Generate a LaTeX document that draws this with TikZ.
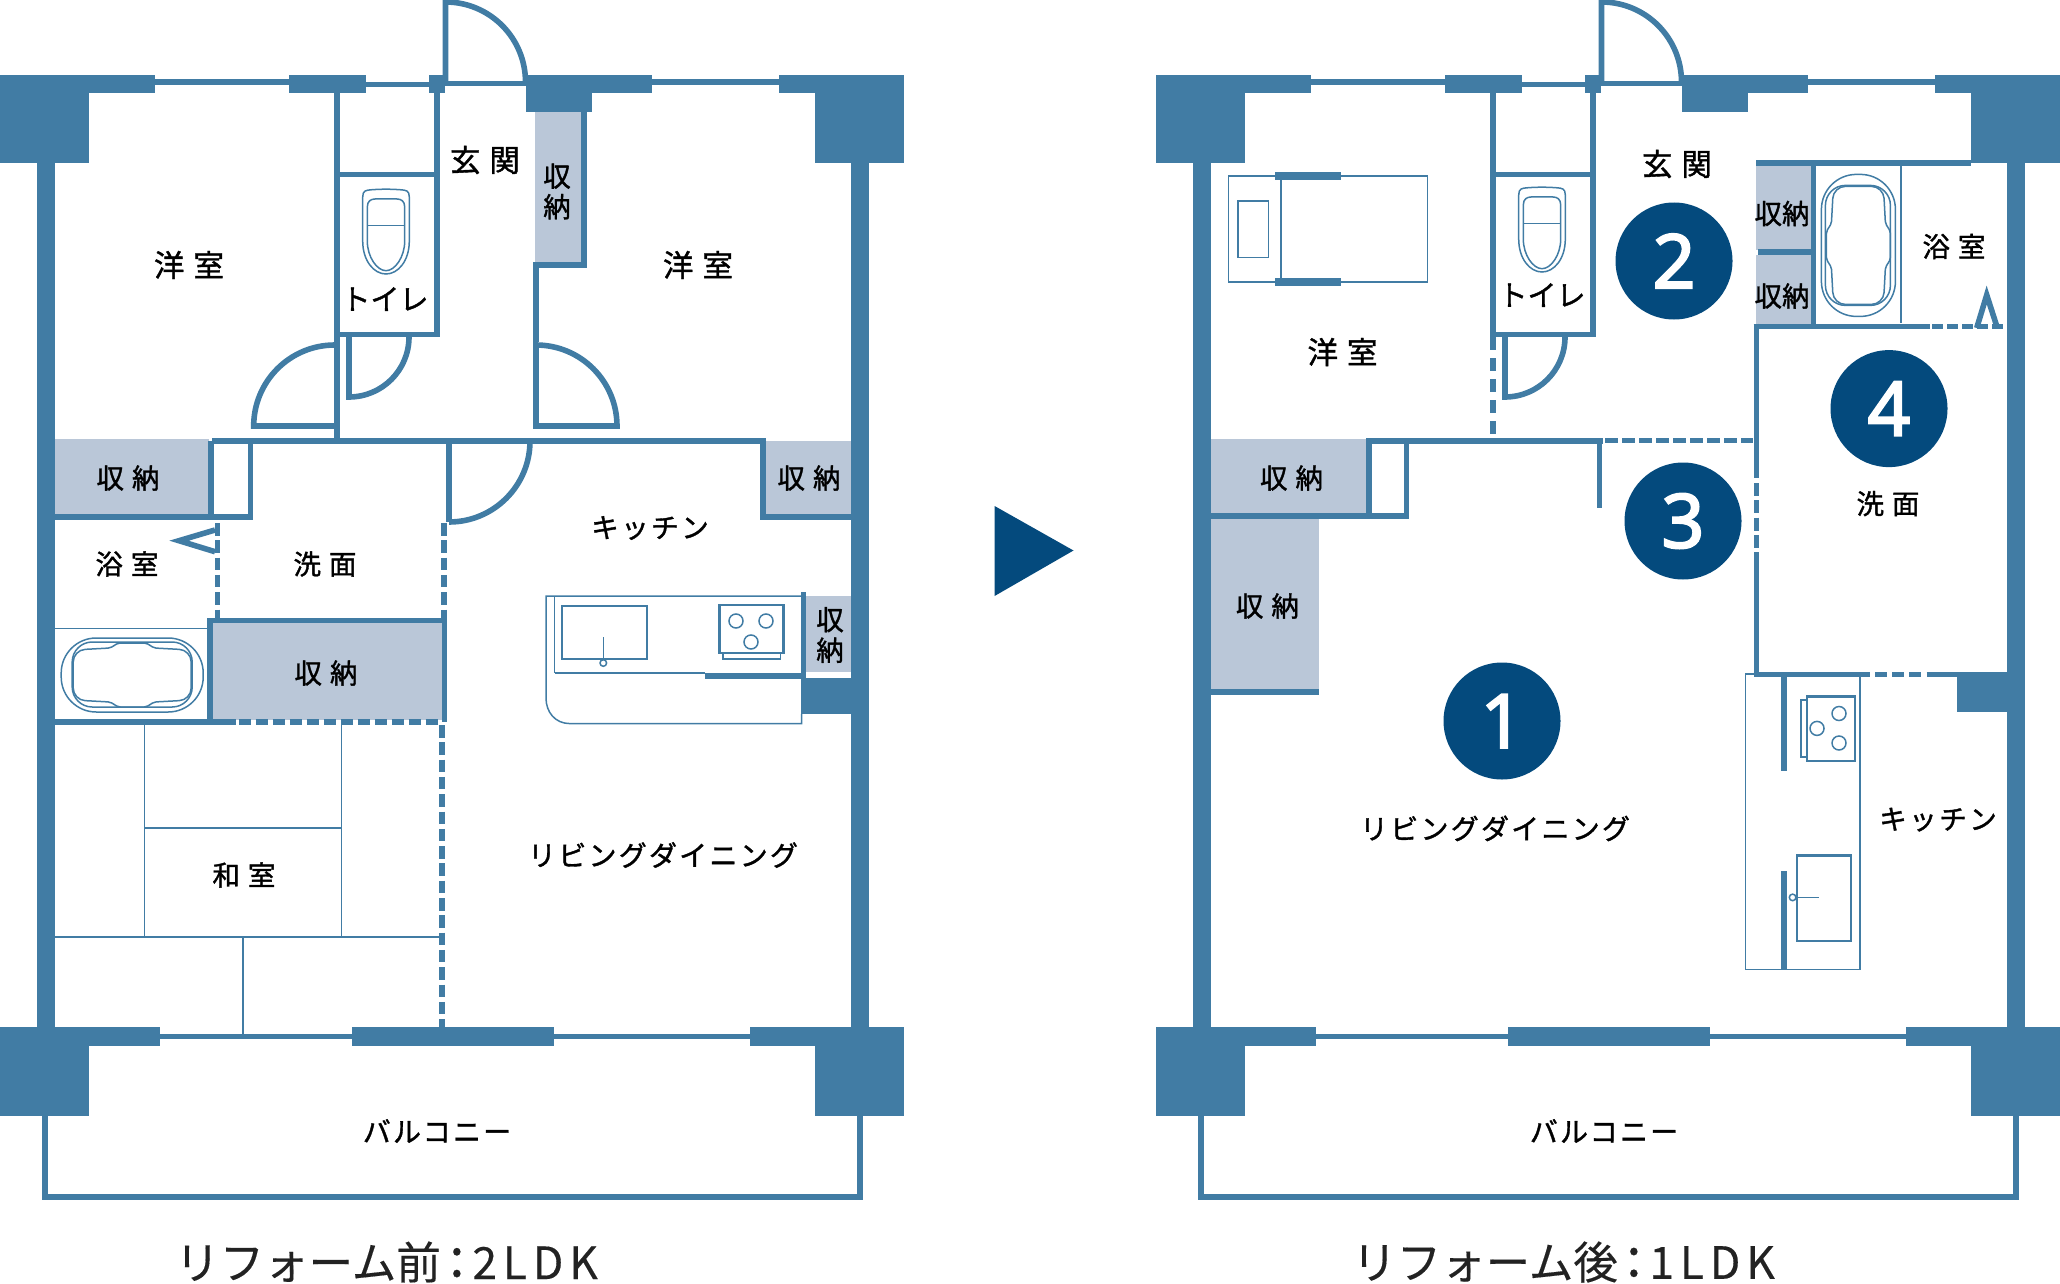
\documentclass[tikz,border=0pt]{standalone}
\usepackage{fontspec}
\newfontfamily\cjk[FakeBold=1.3]{Noto Sans CJK JP}
\newfontfamily\ttl[FakeBold=0.3]{Noto Sans CJK JP}
\newfontfamily\dig[FakeBold=2.6]{Noto Sans}
\definecolor{wall}{HTML}{417CA4}
\definecolor{grayroom}{HTML}{BAC7D8}
\definecolor{navy}{HTML}{044A7D}
\definecolor{ttlc}{HTML}{222222}
\newcommand{\ttlcolon}{\hspace{8.5pt}\raisebox{2.5pt}{\fontsize{54}{54}\selectfont:}\hspace{8pt}}
\tikzset{
  wl/.style={draw=wall,line width=5.6pt},
  dsh/.style={draw=wall,line width=5.6pt,dash pattern=on 12.5pt off 4.8pt},
  thin/.style={draw=wall,line width=1.5pt},
  med/.style={draw=wall,line width=2.2pt},
  lbl/.style={inner sep=0pt,text=black,font=\cjk\fontsize{27.5}{27.5}\selectfont},
  big/.style={inner sep=0pt,text=black,font=\cjk\fontsize{30.5}{30.5}\selectfont},
  wide/.style={inner sep=0pt,text=black,font=\cjk\fontsize{28}{28}\selectfont\addfontfeature{LetterSpace=8}},
  vert/.style={inner sep=0pt,text=black,align=center,font=\cjk\fontsize{27.5}{30.5}\selectfont},
  numc/.style={circle,fill=navy,minimum size=117pt,inner sep=0pt,text=white,font=\dig\fontsize{75}{75}\selectfont},
  titlet/.style={inner sep=0pt,text=ttlc,font=\ttl\fontsize{44.5}{44.5}\selectfont},
}
% outer building shell, shared by both plans
\newcommand{\shellplan}{%
  \fill[wall] (0,75) rectangle (89,163);
  \fill[wall] (814.5,75) rectangle (904,163);
  \fill[wall] (0,1027) rectangle (89,1116);
  \fill[wall] (814.5,1027) rectangle (904,1116);
  \fill[wall] (37,163) rectangle (55,1027);
  \fill[wall] (851,163) rectangle (869,1027);
  % top band
  \fill[wall] (0,75) rectangle (154.5,93);
  \fill[wall] (154.5,79.5) rectangle (289,85);
  \fill[wall] (289,75) rectangle (366,93);
  \fill[wall] (366,81.7) rectangle (429,86.7);
  \fill[wall] (429,75) rectangle (445,93);
  \fill[wall] (445,80.7) rectangle (526,86);
  \fill[wall] (526,75) rectangle (651.5,93);
  \fill[wall] (526,75) rectangle (592,112);
  \fill[wall] (651.5,79.5) rectangle (779,85);
  \fill[wall] (779,75) rectangle (904,93);
  % bottom band
  \fill[wall] (0,1027) rectangle (160,1046);
  \fill[wall] (160,1033.6) rectangle (352,1039);
  \fill[wall] (352,1027) rectangle (554,1046);
  \fill[wall] (554,1033.6) rectangle (750,1039);
  \fill[wall] (750,1027) rectangle (904,1046);
  % balcony
  \draw[wl,line width=5.4pt] (45,1116) -- (45,1197) -- (860,1197) -- (860,1116);
  % entrance door
  \draw[wl] (445.5,84) -- (445.5,2) arc[start angle=-90,end angle=0,radius=80];
  % WC block and its door
  \draw[wl] (337,93) -- (337,337);
  \draw[wl] (337,174.5) -- (436.7,174.5);
  \draw[wl] (436.7,93) -- (436.7,337);
  \draw[wl] (334.2,334.5) -- (439.5,334.5);
  \draw[wl] (349,337) -- (349,397) arc[start angle=90,end angle=0,radius=60];
}
% toilet bowl
\newcommand{\wcbowl}[2]{%
  \begin{scope}[shift={(#1,#2)}]
    \draw[thin] (-23.3,8) .. controls (-23.3,1.5) and (-20,1.2) .. (-15,0.8) .. controls (-5,0) and (5,0) .. (15,0.8) .. controls (20,1.2) and (23.3,1.5) .. (23.3,8) -- (23.3,52) .. controls (23.3,72) and (12,85) .. (0,85) .. controls (-12,85) and (-23.3,72) .. (-23.3,52) -- cycle;
    \draw[thin] (-18.7,18) .. controls (-18.7,12) and (-15,10) .. (-11,10) -- (11,10) .. controls (15,10) and (18.7,12) .. (18.7,18) -- (18.7,52) .. controls (18.7,68) and (9,81.7) .. (0,81.7) .. controls (-9,81.7) and (-18.7,68) .. (-18.7,52) -- cycle;
    \draw[thin] (-18.7,36.7) -- (18.7,36.7);
  \end{scope}%
}
% bath tub, drawn lying, centred on the origin
\newcommand{\bathtub}{%
  \draw[thin] (-71,-37) [rounded corners=35pt] -- (71,-37) -- (71,37) -- (-71,37) -- cycle;
  \draw[thin] (0,-33) [rounded corners=20pt] -- (60,-33) -- (60,32) -- (-60,32) -- (-60,-33) -- cycle;
  \draw[thin] (0,-32) [rounded corners=2pt] -- (14,-32) -- (22,-27) [rounded corners=12pt] -- (59,-25) -- (59,25) [rounded corners=2pt] -- (22,27) -- (14,32) -- (-14,32) -- (-22,27) [rounded corners=12pt] -- (-59,25) -- (-59,-25) [rounded corners=2pt] -- (-22,-27) -- (-14,-32) -- cycle;
}
\begin{document}
\begin{tikzpicture}[x=1pt,y=-1pt]
\useasboundingbox (0,0) rectangle (2060,1284);
%% ================= LEFT PLAN =================
\begin{scope}
  % grey storage
  \fill[grayroom] (535,112) rectangle (581.5,263);
  \fill[grayroom] (55,439) rectangle (209,514);
  \fill[grayroom] (766,441) rectangle (851,514);
  \fill[grayroom] (212,623) rectangle (441.5,719.5);
  \fill[grayroom] (806,596) rectangle (851,672);
  \shellplan
  \wcbowl{386}{189}
  \draw[wl] (337,337) -- (337,441);
  % doors
  \draw[wl] (334.7,345) arc[start angle=-90,end angle=-180,radius=81] -- (337,426);
  \draw[wl] (536,345) arc[start angle=-90,end angle=0,radius=81] -- (536,426) -- cycle;
  % closet beside right room
  \draw[wl] (584,112) -- (584,265) -- (536,265) -- (536,342);
  % middle walls
  \draw[wl] (212,441) -- (763,441);
  \draw[wl] (763,438.2) -- (763,517) -- (851,517);
  \draw[wl] (211,441) -- (211,517);
  \draw[wl] (55,517) -- (250.3,517) -- (250.3,441);
  \draw[wl] (449,522) -- (449,441);
  \draw[wl] (449,522) arc[start angle=90,end angle=0,radius=81];
  % bath dashed
  \draw[dsh] (217.3,523) -- (217.3,618);
  \draw[wl] (215,530) -- (179,540.7) -- (215,551.7);
  \draw[dsh] (444,523) -- (444,618);
  % storage block
  \draw[wl] (207,620.5) -- (447,620.5);
  \draw[wl] (209.7,618) -- (209.7,722);
  \draw[wl] (444.3,618) -- (444.3,722);
  \draw[wl] (55,722) -- (236,722);
  \draw[dsh,dash pattern=on 12pt off 5pt] (238.7,722) -- (441,722);
  \draw[dsh] (442,725) -- (442,1027);
  % bath
  \draw[thin] (55,628.7) -- (207,628.7);
  \begin{scope}[shift={(132.2,675)}]\bathtub\end{scope}
  % tatami
  \draw[thin] (144.5,725) -- (144.5,937);
  \draw[thin] (341.5,725) -- (341.5,937);
  \draw[thin] (144.5,828) -- (341.5,828);
  \draw[thin] (55,937) -- (440,937);
  \draw[thin] (243,937) -- (243,1034);
  % kitchen
  \fill[wall] (801,678) rectangle (851,714);
  \draw[thin] (801.6,714) -- (801.6,723.6) -- (570,723.6) .. controls (555,723.6) and (546,712) .. (546,698) -- (546,596) -- (803,596);
  \draw[thin] (554.6,596) -- (554.6,673);
  \draw[med] (554.6,673) -- (705.4,673);
  \draw[wl] (705.4,676) -- (806,676);
  \draw[wl] (803.5,592) -- (803.5,680);
  \draw[med] (561.6,606) rectangle (646.7,659);
  \draw[thin] (603.3,637) -- (603.3,660);
  \draw[thin,fill=white] (603.3,663) circle[radius=3.3];
  \draw[med] (719.5,605) rectangle (783.4,653);
  \draw[thin] (723,653) -- (723,659) -- (780.5,659) -- (780.5,653);
  \draw[thin] (736,621) circle[radius=7];
  \draw[thin] (766,621) circle[radius=7];
  \draw[thin] (751,642) circle[radius=7];
  % labels
  \node[big] (a1) at (189,265) {洋\hspace{9pt}室};
  \node[big] (a2) at (485,160) {玄\hspace{9pt}関};
  \node[vert] (a3) at (557,191.5) {収\\納};
  \node[big] (a4) at (698,265) {洋\hspace{9pt}室};
  \node[big,font=\cjk\fontsize{29}{29}\selectfont] (a5) at (385,299) {トイレ};
  \node[lbl] (a6) at (128,478) {収\hspace{8pt}納};
  \node[lbl] (a7) at (809,478) {収\hspace{8pt}納};
  \node[lbl] (a8) at (650,528) {キ\hspace{2.5pt}ッ\hspace{2.5pt}チ\hspace{2.5pt}ン};
  \node[lbl] (a9) at (127,564) {浴\hspace{8pt}室};
  \node[lbl] (a10) at (325,564) {洗\hspace{8pt}面};
  \node[lbl] (a11) at (326,673) {収\hspace{8pt}納};
  \node[vert] (a12) at (830,635) {収\\納};
  \node[lbl] (a13) at (244,875) {和\hspace{8pt}室};
  \node[wide] (a14) at (663,855) {リビングダイニング};
  \node[wide] (a15) at (437,1131) {バルコニー};
  \node[titlet,anchor=west] (a16) at (175,1262) {リフォーム前\ttlcolon{\addfontfeature{LetterSpace=13}2LDK}};
\end{scope}
%% ================= ARROW =================
\fill[navy] (994.6,506) -- (1073.5,550.5) -- (994.6,596) -- cycle;
%% ================= RIGHT PLAN =================
\begin{scope}[xshift=1156pt]
  % grey storage
  \fill[grayroom] (55,439) rectangle (210,514);
  \fill[grayroom] (55,518) rectangle (163,690);
  \fill[grayroom] (600,166) rectangle (655,249.5);
  \fill[grayroom] (600,254.5) rectangle (655,324);
  \shellplan
  \wcbowl{386}{187}
  % bed
  \draw[thin] (72.6,176) rectangle (271.6,282);
  \draw[thin] (125,176) -- (125,282);
  \draw[thin] (82,201) rectangle (112.5,257.6);
  \fill[wall] (119,172) rectangle (185,180.5);
  \fill[wall] (119,278) rectangle (185,286);
  % partitions
  \draw[dsh,dash pattern=on 13pt off 8pt] (337,337) -- (337,438);
  \draw[wl] (210,441) -- (447,441);
  \draw[dsh,dash pattern=on 13pt off 4pt] (449,440.5) -- (597,440.5);
  \draw[wl] (443.5,441) -- (443.5,508);
  \draw[wl] (213,441) -- (213,516);
  \draw[wl] (55,516) -- (250.5,516) -- (250.5,441);
  \draw[wl] (55,692) -- (163,692);
  % bath block
  \draw[wl] (600,163) -- (814.5,163);
  \draw[wl] (657.5,163) -- (657.5,326);
  \draw[wl] (602,252) -- (655,252);
  \draw[wl] (597.5,326.3) -- (774,326.3);
  \draw[dsh,dash pattern=on 11pt off 4pt] (776,326.3) -- (851,326.3);
  \draw[wl] (820.7,328) -- (830.7,295) -- (840.7,326);
  \draw[thin] (745,166) -- (745,323);
  \begin{scope}[shift={(702.4,245.4)},rotate=90]\bathtub\end{scope}
  % washroom box
  \draw[wl] (600.3,323.5) -- (600.3,478);
  \draw[dsh,dash pattern=on 13pt off 4.3pt] (600.3,483) -- (600.3,548);
  \draw[wl] (600.3,552) -- (600.3,677);
  \draw[wl] (597.5,674.5) -- (714,674.5);
  \draw[dsh,dash pattern=on 12pt off 5pt] (719,674.5) -- (766,674.5);
  \draw[wl] (770.7,674.5) -- (851,674.5);
  % kitchen
  \fill[wall] (801,677) rectangle (851,712);
  \draw[thin] (600,674) -- (589.6,674) -- (589.6,969.4) -- (704,969.4) -- (704,677);
  \draw[wl] (628,677) -- (628,771);
  \draw[wl] (628,871) -- (628,969.4);
  \draw[med] (651,696.5) rectangle (699,760.7);
  \draw[thin] (651,700) -- (645,700) -- (645,757) -- (651,757);
  \draw[thin] (683,713.5) circle[radius=7];
  \draw[thin] (661,728.4) circle[radius=7];
  \draw[thin] (683,743) circle[radius=7];
  \draw[med] (641,855.5) rectangle (694.7,940.6);
  \draw[thin,fill=white] (636.6,897.4) circle[radius=3.3];
  \draw[thin] (640,897.4) -- (663,897.4);
  % numbered badges
  \node[numc] (n1) at (346,721) {\raisebox{-3pt}{1}};
  \node[numc] (n2) at (518,261) {\raisebox{-3pt}{2}};
  \node[numc] (n3) at (527,521) {\raisebox{-3pt}{3}};
  \node[numc] (n4) at (733,408.6) {\raisebox{-3pt}{4}};
  % labels
  \node[big] (b1) at (186.5,352) {洋\hspace{9pt}室};
  \node[big] (b2) at (521,164) {玄\hspace{9pt}関};
  \node[big,font=\cjk\fontsize{29}{29}\selectfont] (b3) at (386,295) {トイレ};
  \node[lbl] (b4) at (626,213.5) {収納};
  \node[lbl] (b5) at (626,296) {収納};
  \node[lbl] (b6) at (798,246.5) {浴\hspace{8pt}室};
  \node[lbl] (b7) at (732,503.6) {洗\hspace{8pt}面};
  \node[lbl] (b8) at (135.5,478) {収\hspace{8pt}納};
  \node[lbl] (b9) at (111.4,606) {収\hspace{8pt}納};
  \node[wide] (b10) at (339,828.4) {リビングダイニング};
  \node[lbl] (b11) at (782,819.6) {キ\hspace{2.5pt}ッ\hspace{2.5pt}チ\hspace{2.5pt}ン};
  \node[wide] (b12) at (448,1131) {バルコニー};
  \node[titlet,anchor=west] (b13) at (196,1262) {リフォーム後\ttlcolon{\addfontfeature{LetterSpace=13}1LDK}};
\end{scope}
\end{tikzpicture}
\end{document}
